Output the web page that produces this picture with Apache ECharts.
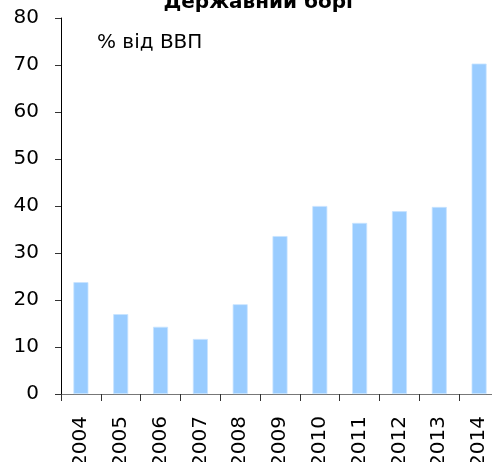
<!DOCTYPE html>
<html>
<head>
<meta charset="utf-8">
<script src="https://cdn.jsdelivr.net/npm/echarts@6/dist/echarts.min.js"></script>
<style>html,body{margin:0;padding:0;background:#fff;}#c{width:492px;height:462px;}</style>
</head>
<body>
<div id="c"></div>
<script>
var years = ['2004','2005','2006','2007','2008','2009','2010','2011','2012','2013','2014'];
var debt = [23.8, 17.0, 14.3, 11.7, 19.1, 33.6, 40.0, 36.4, 38.9, 39.8, 70.3];
var titleText = 'Державний борг';
var unitText = '% від ВВП';

var chart = echarts.init(document.getElementById('c'), null, {renderer: 'canvas'});
var font = 'DejaVu Sans, Verdana, sans-serif';
chart.setOption({
  animation: false,
  title: {
    text: titleText,
    left: 255, top: -12, textAlign: 'center',
    textStyle: {fontFamily: font, fontSize: 20, fontWeight: 'bold', color: '#000'}
  },
  graphic: [{
    type: 'text', left: 97, top: 33,
    style: {text: unitText, font: '20px ' + font, fill: '#000'}
  }],
  grid: {left: 61, top: 18, width: 438, height: 376, containLabel: false, outerBoundsMode: 'none'},
  xAxis: {
    type: 'category', data: years,
    axisLine: {show: true, lineStyle: {color: '#777', width: 1}},
    axisTick: {show: true, alignWithLabel: false, length: 7, lineStyle: {color: '#333'}},
    axisLabel: {rotate: 90, margin: 22, fontFamily: font, fontSize: 20, color: '#000', interval: 0, hideOverlap: false}
  },
  yAxis: {
    type: 'value', min: 0, max: 80, interval: 10,
    splitLine: {show: false},
    axisLine: {show: true, lineStyle: {color: '#000', width: 1}},
    axisTick: {show: true, length: 6, lineStyle: {color: '#333'}},
    axisLabel: {margin: 22, fontFamily: font, fontSize: 20, color: '#000'}
  },
  series: [{
    type: 'bar', data: debt, barWidth: 15,
    itemStyle: {color: '#99ccff', borderColor: '#c8e3ff', borderWidth: 0.8}
  }]
});
</script>
</body>
</html>
